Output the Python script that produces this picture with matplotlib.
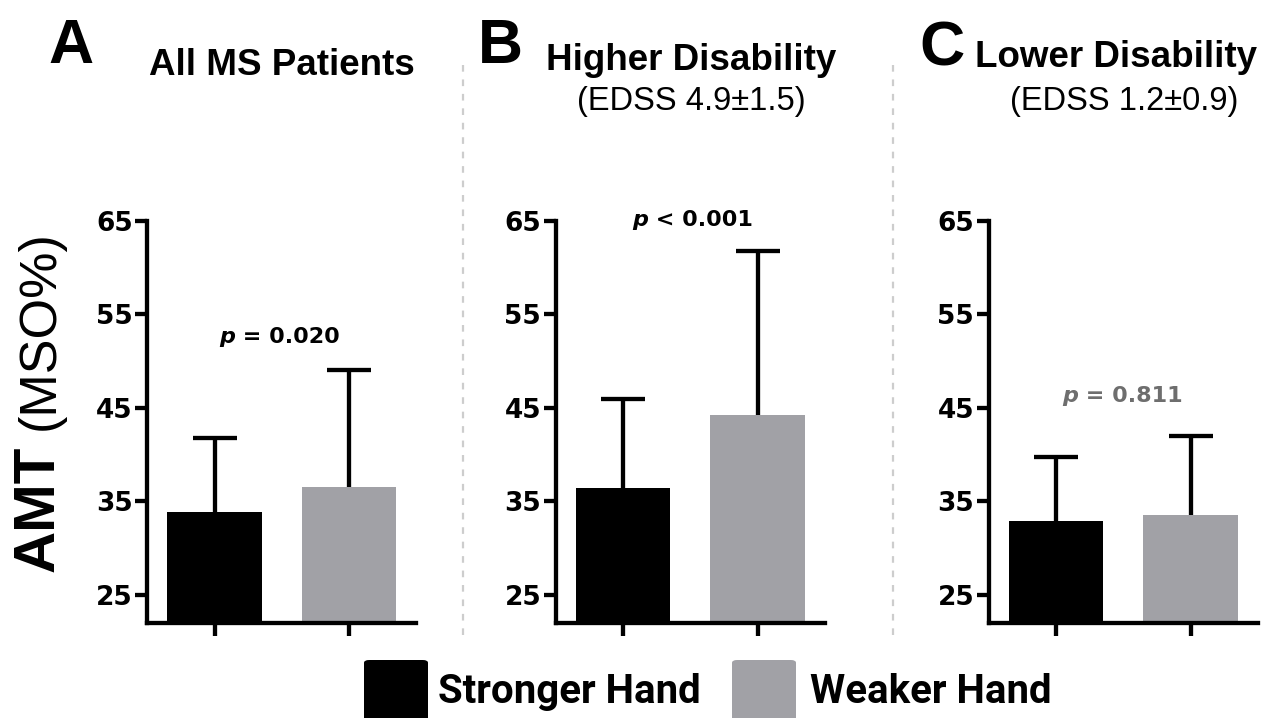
import numpy as np
import matplotlib
matplotlib.use("Agg")
import matplotlib.pyplot as plt
from matplotlib.patches import FancyBboxPatch
from matplotlib.lines import Line2D

# ---- data -------------------------------------------------------------
panel_letters = ["A", "B", "C"]
panel_titles = ["All MS Patients", "Higher Disability", "Lower Disability"]
panel_subtitles = ["", "(EDSS 4.9±1.5)", "(EDSS 1.2±0.9)"]
series_names = ["Stronger Hand", "Weaker Hand"]
stronger_mean = [33.9, 36.4, 32.9]
stronger_sd = [7.9, 9.6, 6.9]
weaker_mean = [36.6, 44.2, 33.5]
weaker_sd = [12.5, 17.6, 8.5]
p_texts = [" = 0.020", " < 0.001", " = 0.811"]
y_ticks = [25, 35, 45, 55, 65]

# ---- style ------------------------------------------------------------
W, H, DPI = 1281, 718, 100
BAR_COLORS = ["#000000", "#a1a1a6"]
LW = 3.1
TICK_FONT = dict(family="DejaVu Sans", weight="bold", size=19)


def fx(px):
    return px / W


def fy(py):
    return 1 - py / H


fig = plt.figure(figsize=(W / DPI, H / DPI), dpi=DPI, facecolor="white")

# pixel layout of the three panels (centre of first bar)
first_bar_px = [214.5, 623.0, 1056.0]
px_per_unit = 134.5
axis_top_px, axis_bottom_px = 221.0, 623.0

p_pos = [(0.033, 51.9, "black"), (0.067, 64.5, "black"), (0.045, 45.6, "#6e6e6e")]
title_pos = [(282, 75), (691, 70), (1116, 67)]
subtitle_pos = [None, (691.5, 110), (1124, 110)]
letter_pos = [(48, 63), (478, 63), (919, 65)]

x = np.array([0.0, 1.0])
cap_half = 22.0 / px_per_unit

for i in range(3):
    left_px = first_bar_px[i] - 0.5 * px_per_unit
    ax = fig.add_axes([fx(left_px), fy(axis_bottom_px),
                       2 * px_per_unit / W,
                       (axis_bottom_px - axis_top_px) / H])
    means = np.array([stronger_mean[i], weaker_mean[i]])
    sds = np.array([stronger_sd[i], weaker_sd[i]])
    tops = means + sds

    # one-sided (upper) SD error bars, drawn under the bars
    ax.vlines(x, means, tops, color="black", lw=LW, zorder=1)
    ax.hlines(tops, x - cap_half, x + cap_half, color="black", lw=LW, zorder=1)
    ax.bar(x, means, width=0.70, color=BAR_COLORS, edgecolor="none", zorder=2)

    ax.set_xlim(-0.5, 1.5)
    ax.set_ylim(22, 65)
    ax.set_yticks(y_ticks)
    ax.set_yticklabels([str(t) for t in y_ticks], fontdict=TICK_FONT)
    ax.set_xticks(x)
    ax.set_xticklabels([])
    for s in ["top", "right"]:
        ax.spines[s].set_visible(False)
    for s in ["left", "bottom"]:
        ax.spines[s].set_linewidth(LW)
        ax.spines[s].set_capstyle("projecting")
    ax.tick_params(axis="both", direction="out", length=9, width=LW, pad=1.5)
    ax.patch.set_alpha(0)

    # significance annotation: italic "p" followed by the value
    px_, py_, pc = p_pos[i]
    tp = ax.text(px_, py_, "p", family="DejaVu Sans", weight="bold",
                 style="italic", size=16, color=pc, ha="left", va="baseline",
                 clip_on=False)
    ax.annotate(p_texts[i], xy=(1, 0), xycoords=tp, ha="left", va="bottom",
                family="DejaVu Sans", weight="bold", size=16, color=pc,
                annotation_clip=False)

    # panel headings
    tx, ty = title_pos[i]
    fig.text(fx(tx), fy(ty), panel_titles[i], family="Liberation Sans",
             weight="bold", size=26.5, ha="center", va="baseline")
    if subtitle_pos[i] is not None:
        sx, sy = subtitle_pos[i]
        fig.text(fx(sx), fy(sy), panel_subtitles[i], family="Liberation Sans",
                 size=23.5, ha="center", va="baseline")
    lx, ly = letter_pos[i]
    fig.text(fx(lx), fy(ly), panel_letters[i], family="Liberation Sans",
             weight="bold", size=45, ha="left", va="baseline")

# dashed separators between panels
for sep in [463, 893]:
    fig.add_artist(Line2D([fx(sep), fx(sep)], [fy(65), fy(640)],
                          transform=fig.transFigure, color="#cdcdcd",
                          lw=1.6, linestyle=(0, (3.0, 3.5))))

# shared y-axis label
fig.text(fx(54), fy(508.5), "AMT", family="Liberation Sans", weight="bold",
         size=42, rotation=90, rotation_mode="anchor", ha="center",
         va="baseline")
fig.text(fx(54), fy(330), "(MSO%)", family="Liberation Sans", size=37.5,
         rotation=90, rotation_mode="anchor", ha="center", va="baseline")

# legend along the bottom edge
legend_boxes = [(364, 428), (732, 796)]
legend_text_x = [438, 810]
for name, color, (x0, x1), tx in zip(series_names, BAR_COLORS,
                                     legend_boxes, legend_text_x):
    box = FancyBboxPatch((fx(x0), fy(735)), fx(x1 - x0), (735 - 660) / H,
                         boxstyle="round,pad=0,rounding_size=0.004",
                         transform=fig.transFigure, facecolor=color,
                         edgecolor="none", clip_on=False)
    fig.add_artist(box)
    fig.text(fx(tx), fy(703), name, family="Roboto", weight="bold", size=29,
             ha="left", va="baseline")

fig.savefig("out.png", dpi=DPI, facecolor="white")
